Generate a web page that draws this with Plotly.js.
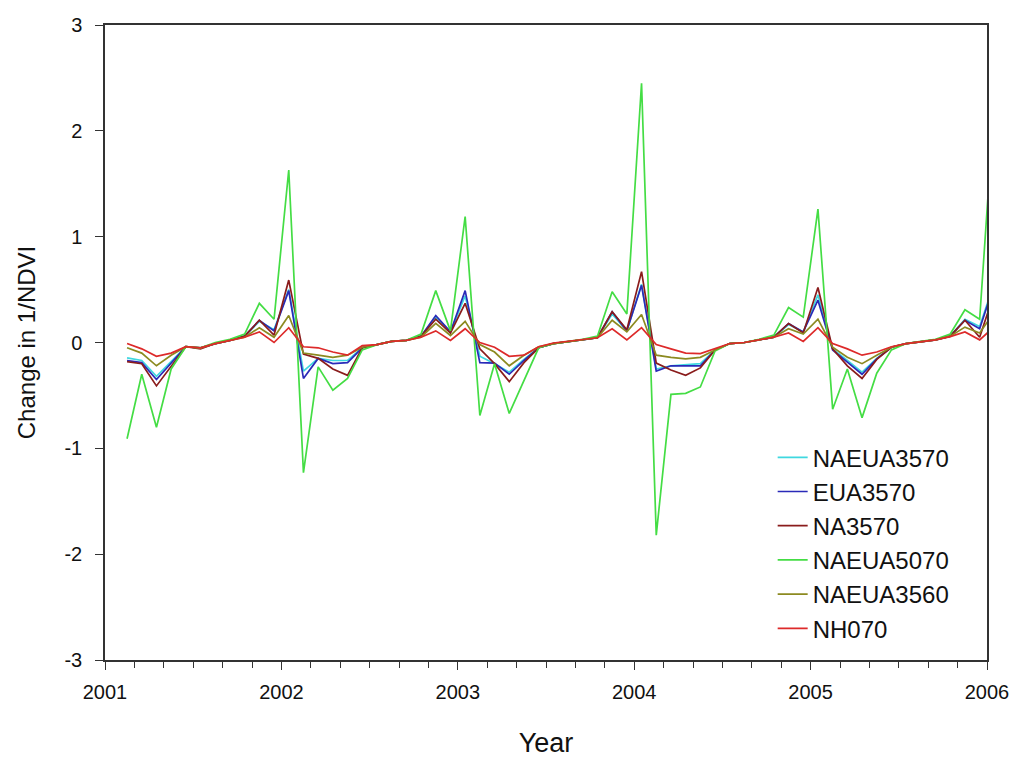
<!DOCTYPE html>
<html>
<head>
<meta charset="utf-8">
<script src="https://cdn.plot.ly/plotly-3.0.1.min.js"></script>
<style>html,body{margin:0;padding:0;background:#fff;}#chart{width:1010px;height:758px;}</style>
</head>
<body>
<div id="chart"></div>
<script>
// Monthly observations (year-month)
const months = [
 '2001-02','2001-03','2001-04','2001-05','2001-06','2001-07','2001-08','2001-09','2001-10','2001-11','2001-12',
 '2002-01','2002-02','2002-03','2002-04','2002-05','2002-06','2002-07','2002-08','2002-09','2002-10','2002-11','2002-12',
 '2003-01','2003-02','2003-03','2003-04','2003-05','2003-06','2003-07','2003-08','2003-09','2003-10','2003-11','2003-12',
 '2004-01','2004-02','2004-03','2004-04','2004-05','2004-06','2004-07','2004-08','2004-09','2004-10','2004-11','2004-12',
 '2005-01','2005-02','2005-03','2005-04','2005-05','2005-06','2005-07','2005-08','2005-09','2005-10','2005-11','2005-12',
 '2006-01'
];
// mid-month position expressed in decimal years
const monthYears = months.map(s => { const p = s.split('-'); return +p[0] + (+p[1] - 0.5) / 12; });

const xTickVals = [2001, 2002, 2003, 2004, 2005, 2006];
const xTickText = ['2001', '2002', '2003', '2004', '2005', '2006'];
const yTickVals = [-3, -2, -1, 0, 1, 2, 3];
const yTickText = ['-3', '-2', '-1', '0', '1', '2', '3'];

const NAEUA3570 = [-0.145,-0.17,-0.32,-0.18,-0.04,-0.05,-0.01,0.02,0.06,0.20,0.12,
 0.50,-0.27,-0.15,-0.17,-0.17,-0.05,-0.02,0.01,0.02,0.06,0.24,0.10,
 0.44,-0.13,-0.20,-0.28,-0.16,-0.05,-0.01,0.01,0.025,0.045,0.27,0.11,
 0.55,-0.25,-0.22,-0.21,-0.20,-0.07,-0.01,0.00,0.025,0.05,0.17,0.10,
 0.45,-0.06,-0.17,-0.28,-0.15,-0.045,-0.01,0.01,0.025,0.06,0.22,0.15,
 0.57];

const EUA3570 = [-0.17,-0.19,-0.35,-0.19,-0.04,-0.05,-0.01,0.02,0.06,0.21,0.11,
 0.49,-0.34,-0.15,-0.20,-0.19,-0.05,-0.02,0.01,0.02,0.06,0.255,0.10,
 0.49,-0.19,-0.195,-0.30,-0.17,-0.05,-0.01,0.01,0.025,0.045,0.29,0.11,
 0.54,-0.27,-0.22,-0.22,-0.22,-0.07,-0.01,0.00,0.025,0.05,0.18,0.10,
 0.40,-0.07,-0.185,-0.30,-0.155,-0.045,-0.01,0.01,0.025,0.06,0.21,0.13,
 0.55];

const NA3570 = [-0.18,-0.20,-0.41,-0.22,-0.04,-0.06,-0.01,0.02,0.06,0.21,0.07,
 0.59,-0.11,-0.15,-0.25,-0.31,-0.05,-0.02,0.01,0.02,0.06,0.22,0.09,
 0.37,-0.06,-0.20,-0.37,-0.19,-0.05,-0.01,0.01,0.025,0.045,0.29,0.12,
 0.67,-0.195,-0.26,-0.31,-0.24,-0.07,-0.01,0.00,0.025,0.05,0.18,0.09,
 0.52,-0.06,-0.22,-0.34,-0.16,-0.045,-0.01,0.01,0.025,0.06,0.21,0.05,
 0.47];

const NAEUA5070 = [-0.91,-0.30,-0.80,-0.25,-0.04,-0.05,0.00,0.03,0.08,0.37,0.22,
 1.63,-1.23,-0.23,-0.45,-0.34,-0.07,-0.02,0.01,0.02,0.08,0.49,0.11,
 1.19,-0.69,-0.20,-0.67,-0.36,-0.05,-0.01,0.01,0.03,0.06,0.48,0.27,
 2.45,-1.82,-0.49,-0.48,-0.42,-0.08,-0.01,0.00,0.03,0.07,0.33,0.24,
 1.26,-0.63,-0.25,-0.71,-0.29,-0.07,-0.01,0.01,0.03,0.08,0.31,0.22,
 2.27];

const NAEUA3560 = [-0.05,-0.10,-0.22,-0.12,-0.04,-0.05,-0.01,0.02,0.05,0.14,0.05,
 0.255,-0.10,-0.12,-0.14,-0.12,-0.045,-0.02,0.01,0.02,0.05,0.18,0.066,
 0.20,-0.02,-0.09,-0.22,-0.12,-0.04,-0.01,0.01,0.025,0.045,0.21,0.10,
 0.265,-0.12,-0.14,-0.155,-0.14,-0.07,-0.01,0.00,0.025,0.05,0.13,0.08,
 0.22,-0.045,-0.14,-0.20,-0.12,-0.045,-0.01,0.01,0.025,0.06,0.145,0.09,
 0.29];

const NH070 = [-0.01,-0.06,-0.13,-0.10,-0.04,-0.05,-0.01,0.02,0.05,0.10,0.00,
 0.14,-0.04,-0.05,-0.09,-0.12,-0.03,-0.02,0.01,0.02,0.05,0.11,0.02,
 0.13,0.00,-0.045,-0.13,-0.12,-0.04,-0.005,0.01,0.025,0.045,0.13,0.025,
 0.14,-0.02,-0.06,-0.10,-0.105,-0.06,-0.01,0.00,0.025,0.05,0.09,0.01,
 0.14,-0.01,-0.06,-0.12,-0.09,-0.04,-0.01,0.01,0.025,0.055,0.10,0.025,
 0.15];

const seriesNames = ['NAEUA3570','EUA3570','NA3570','NAEUA5070','NAEUA3560','NH070'];
const seriesData = [NAEUA3570, EUA3570, NA3570, NAEUA5070, NAEUA3560, NH070];
const seriesColors = ['#3fd8e0','#2a2ab8','#8a1c1c','#44dd44','#8c8a20','#dd2a2a'];

const traces = seriesNames.map((n, i) => ({
  type: 'scatter', mode: 'lines', name: n,
  x: monthYears, y: seriesData[i],
  line: {color: seriesColors[i], width: 1.7}
}));

const FONT = '"Liberation Sans", Arial, sans-serif';

const layout = {
  width: 1010, height: 758,
  margin: {l: 105, r: 23, t: 25, b: 98},
  paper_bgcolor: '#fff', plot_bgcolor: '#fff',
  font: {family: FONT, color: '#111', size: 20},
  showlegend: true,
  legend: {
    x: 0.757, y: 0.354, xanchor: 'left', yanchor: 'top',
    font: {family: FONT, size: 24, color: '#111'},
    bgcolor: 'rgba(0,0,0,0)', borderwidth: 0,
    traceorder: 'normal'
  },
  xaxis: {
    range: [2001, 2006],
    tickmode: 'array', tickvals: xTickVals, ticktext: xTickText,
    ticklabeloverflow: 'allow',
    ticks: 'outside', ticklen: 8, tickwidth: 1.2, tickcolor: '#333',
    ticklabelstandoff: 5,
    minor: {tickmode: 'linear', tick0: 2001, dtick: 1/6, ticks: 'outside', ticklen: 6, tickwidth: 1, tickcolor: '#333', showgrid: false},
    showgrid: false, zeroline: false,
    showline: true, linecolor: '#333', linewidth: 1.5, mirror: true,
    tickfont: {family: FONT, size: 20, color: '#111'},
    automargin: false,
    title: {text: 'Year', font: {family: FONT, size: 27, color: '#111'}, standoff: 33}
  },
  yaxis: {
    range: [-3, 3],
    tickmode: 'array', tickvals: yTickVals, ticktext: yTickText,
    ticks: 'outside', ticklen: 8, tickwidth: 1.2, tickcolor: '#333',
    ticklabelstandoff: 9,
    showgrid: false, zeroline: false,
    showline: true, linecolor: '#333', linewidth: 1.5, mirror: true,
    tickfont: {family: FONT, size: 20, color: '#111'},
    title: {text: 'Change in 1/NDVI', font: {family: FONT, size: 24, color: '#111'}, standoff: 22}
  }
};

Plotly.newPlot('chart', traces, layout, {displayModeBar: false, responsive: false});
</script>
</body>
</html>
